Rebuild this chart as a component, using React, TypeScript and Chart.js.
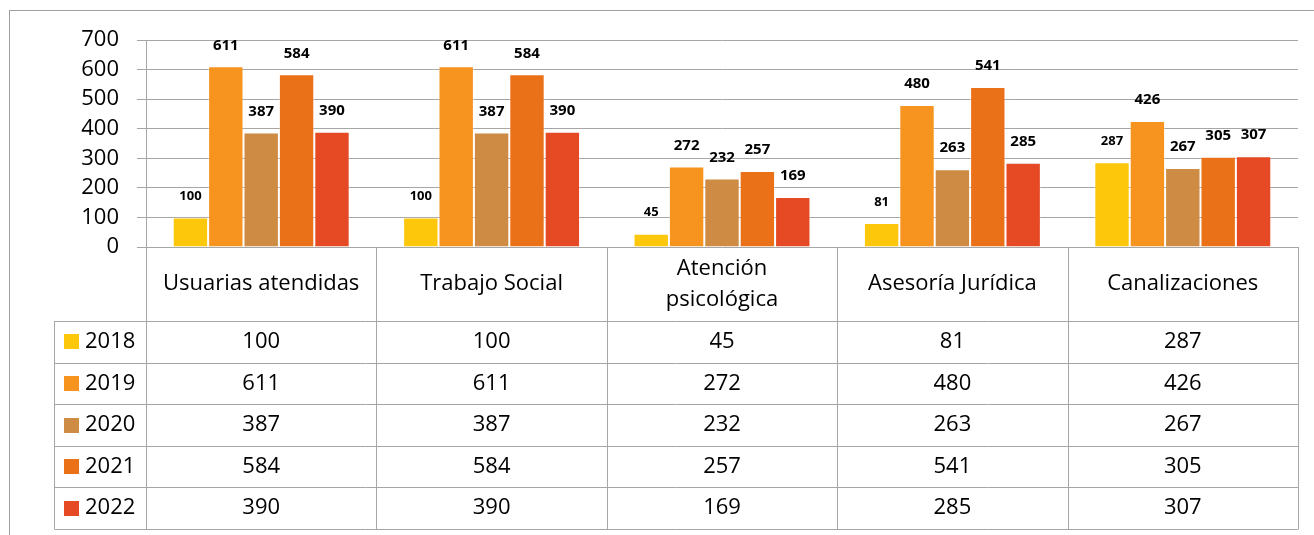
import React, { useEffect, useRef } from "react";
import { Chart, registerables } from "chart.js";

Chart.register(...registerables);

const categories: (string | string[])[] = [
  "Usuarias atendidas",
  "Trabajo Social",
  ["Atención", "psicológica"],
  "Asesoría Jurídica",
  "Canalizaciones",
];
const years = ["2018", "2019", "2020", "2021", "2022"];
const v2018 = [100, 100, 45, 81, 287];
const v2019 = [611, 611, 272, 480, 426];
const v2020 = [387, 387, 232, 263, 267];
const v2021 = [584, 584, 257, 541, 305];
const v2022 = [390, 390, 169, 285, 307];
const seriesValues = [v2018, v2019, v2020, v2021, v2022];
const colors = ["#FDC70B", "#F7931F", "#CD8B43", "#EB7119", "#E54A25"];
const yMax = 700;
const yStep = 100;

const FONT = "'Open Sans', sans-serif";
const GRID = "#a6a6a6";

const labelPlugin = {
  id: "barLabels",
  afterDatasetsDraw(chart: any) {
    const ctx = chart.ctx;
    ctx.save();
    ctx.textAlign = "center";
    ctx.textBaseline = "middle";
    ctx.fillStyle = "#000";
    chart.data.datasets.forEach((ds: any, di: number) => {
      const meta = chart.getDatasetMeta(di);
      ctx.font = `bold ${di === 0 ? 13 : 15}px ${FONT}`;
      meta.data.forEach((el: any, i: number) => {
        ctx.fillText(String(ds.data[i]), el.x, el.y - 21);
      });
    });
    ctx.restore();
  },
};

const tablePlugin = {
  id: "dataTable",
  afterDraw(chart: any) {
    const ctx = chart.ctx;
    const { left, right, bottom } = chart.chartArea;
    const xs = chart.scales.x;
    const headerH = 74;
    const rowH = 41.6;
    const legendLeft = 54.5;
    const n = categories.length;
    const tableTop = bottom;
    const rowsTop = tableTop + headerH;
    const tableBottom = rowsTop + rowH * years.length;
    ctx.save();
    // outer frame
    ctx.strokeStyle = "#a0a0a0";
    ctx.lineWidth = 1;
    ctx.strokeRect(9.5, 10.5, 1400, 700);

    ctx.strokeStyle = GRID;
    ctx.beginPath();
    for (let i = 0; i <= n; i++) {
      const bx = Math.round(xs.getPixelForValue(i - 0.5)) + 0.5;
      ctx.moveTo(bx, tableTop);
      ctx.lineTo(bx, tableBottom);
    }
    for (let r = 0; r <= years.length; r++) {
      const y = Math.round(rowsTop + r * rowH) + 0.5;
      ctx.moveTo(legendLeft, y);
      ctx.lineTo(Math.round(right) + 0.5, y);
    }
    ctx.moveTo(legendLeft, rowsTop);
    ctx.lineTo(legendLeft, tableBottom);
    ctx.stroke();

    // header labels
    ctx.fillStyle = "#000";
    ctx.font = `22px ${FONT}`;
    ctx.textAlign = "center";
    ctx.textBaseline = "middle";
    const lineH = 31;
    categories.forEach((c, i) => {
      const cx = xs.getPixelForValue(i);
      const lines = Array.isArray(c) ? c : [c];
      const cy = tableTop + headerH / 2;
      lines.forEach((ln, li) => {
        ctx.fillText(ln, cx, cy + (li - (lines.length - 1) / 2) * lineH);
      });
    });

    // rows
    years.forEach((yr, r) => {
      const cy = rowsTop + r * rowH + rowH / 2;
      ctx.fillStyle = colors[r];
      ctx.fillRect(64, Math.round(cy - 7.5), 15, 15);
      ctx.fillStyle = "#000";
      ctx.textAlign = "left";
      ctx.fillText(yr, 85, cy);
      ctx.textAlign = "center";
      seriesValues[r].forEach((v, i) => {
        ctx.fillText(String(v), xs.getPixelForValue(i), cy);
      });
    });
    ctx.restore();
  },
};

export default function App() {
  const ref = useRef<HTMLCanvasElement>(null);
  useEffect(() => {
    if (!ref.current) return;
    const chart = new Chart(ref.current, {
      type: "bar",
      data: {
        labels: categories as any,
        datasets: years.map((y, i) => ({
          label: y,
          data: seriesValues[i],
          backgroundColor: colors[i],
          borderColor: "rgba(255,255,255,0.35)",
          borderWidth: 1,
          categoryPercentage: 0.768,
          barPercentage: 1,
        })),
      },
      options: {
        animation: false,
        responsive: false,
        devicePixelRatio: 1,
        layout: { padding: { left: 0, top: 40, right: 16, bottom: 288 } },
        plugins: {
          legend: { display: false },
          tooltip: { enabled: false },
          title: { display: false },
        },
        scales: {
          x: { display: false, offset: true },
          y: {
            min: 0,
            max: yMax,
            afterFit: (s: any) => {
              s.width = 146;
            },
            ticks: {
              stepSize: yStep,
              padding: 18,
              color: "#000",
              font: { family: FONT, size: 22 },
            },
            grid: { color: GRID, tickLength: 9, drawTicks: true },
            border: { display: true, color: GRID },
          },
        },
      },
      plugins: [labelPlugin, tablePlugin],
    });
    return () => chart.destroy();
  }, []);
  return (
    <canvas
      ref={ref}
      width={1314}
      height={535}
      style={{ position: "fixed", left: 0, top: 0, display: "block", background: "#fff" }}
    />
  );
}
